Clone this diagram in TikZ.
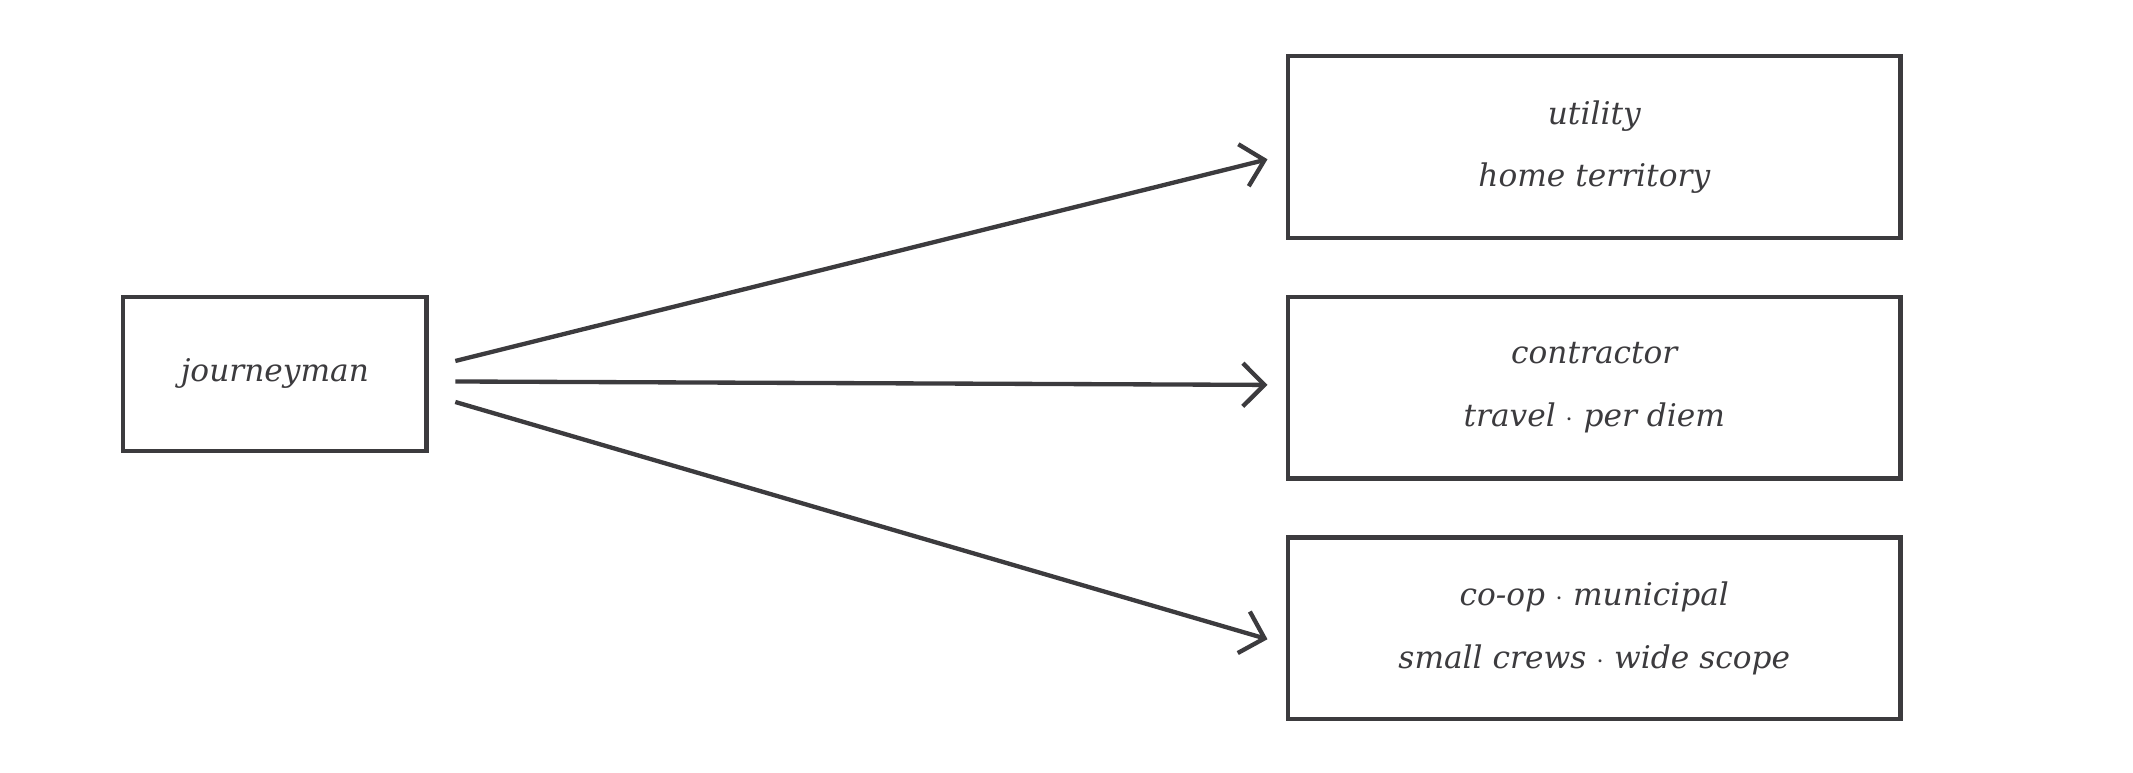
\documentclass[tikz,border=0pt]{standalone}
\usepackage{fontspec}
\setmainfont{DejaVu Serif}
\usetikzlibrary{arrows.meta}
\definecolor{ink}{HTML}{3C3B3E}
\tikzset{
  box/.style={draw=ink, line width=1.8pt, text=ink, align=center, outer sep=0pt, font=\itshape\fontsize{13}{26}\selectfont},
  wide/.style={box, minimum width=448*0.02cm, minimum height=133*0.02cm},
  link/.style={draw=ink, line width=1.8pt, -{Straight Barb[length=9pt,width=18pt,line width=1.8pt]}}
}
\begin{document}
\begin{tikzpicture}[x=0.02cm, y=-0.02cm]
        \useasboundingbox (0,0) rectangle (1560,565);

        \node[box, minimum width=222*0.02cm, minimum height=113*0.02cm] (journeyman) at (201,273.5) {journeyman};

        \node[wide] (utility) at (1166,107.5) {utility\\home territory};
        \node[wide] (contractor) at (1166,283.5) {contractor\\travel $\cdot$ per diem};
        \node[wide] (coop) at (1166,459.5) {co-op $\cdot$ municipal\\small crews $\cdot$ wide scope};

        \coordinate (a1) at (333,264);
        \coordinate (a2) at (333,279);
        \coordinate (a3) at (333,294);
        \draw[link] (a1) -- ([xshift=-15*0.02cm, yshift=-9*0.02cm]utility.west);
        \draw[link] (a2) -- ([xshift=-15*0.02cm, yshift=2*0.02cm]contractor.west);
        \draw[link] (a3) -- ([xshift=-15*0.02cm, yshift=-8*0.02cm]coop.west);
    \end{tikzpicture}
\end{document}
